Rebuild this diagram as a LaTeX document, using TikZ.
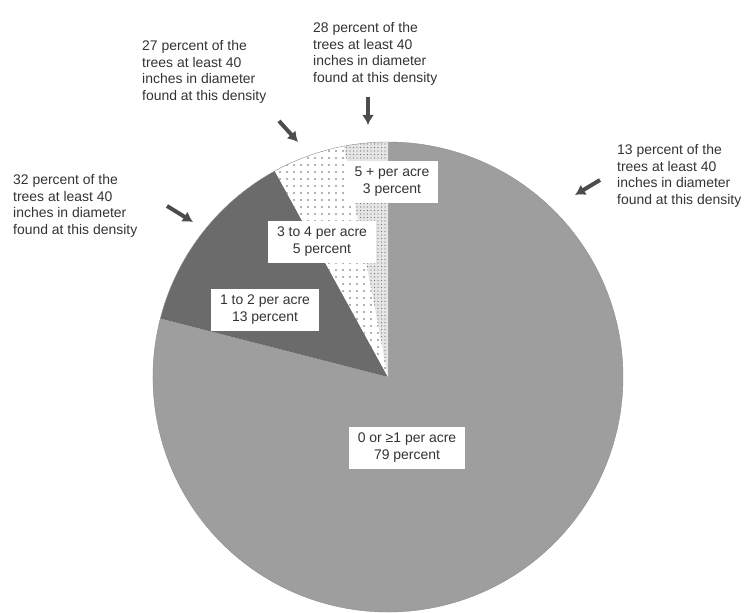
\documentclass[tikz,border=0pt]{standalone}
\usepackage{fontspec}
\setmainfont{Liberation Sans}
\usepackage{tikz}
\usetikzlibrary{arrows.meta,patterns.meta}

\tikzset{
  note/.style={align=left, font=\fontsize{14}{16.7}\selectfont, text=black!80, inner sep=0pt},
  tag/.style={fill=white, align=center, font=\fontsize{14}{17}\selectfont, text=black!80, inner xsep=9bp, inner ysep=6bp},
  pointer/.style={-{Latex[length=10bp,width=12bp]}, line width=4bp, draw=black!70},
}

\begin{document}
\begin{tikzpicture}[x=1bp, y=1bp]
	\useasboundingbox (0,0) rectangle (748,613);
	\coordinate (c) at (388,236);
	
	% slices, counter-clockwise from the top
	\fill[black!38] (c) -- ++(165.6:235bp) arc (165.6:450:235bp) -- cycle;
	\fill[black!58] (c) -- ++(118.8:235bp) arc (118.8:165.6:235bp) -- cycle;
	\fill[white] (c) -- ++(100.8:235bp) arc (100.8:118.8:235bp) -- cycle;
	\fill[pattern={Dots[distance=7bp,radius=0.9bp]}, pattern color=black!60]
		(c) -- ++(100.8:235bp) arc (100.8:118.8:235bp) -- cycle;
	\fill[black!10] (c) -- ++(90:235bp) arc (90:100.8:235bp) -- cycle;
	\fill[pattern={Dots[distance=3.5bp,radius=0.7bp]}, pattern color=black!55]
		(c) -- ++(90:235bp) arc (90:100.8:235bp) -- cycle;
	\draw[black!45, thin] (c) circle (235bp);
	
	\node[tag] (s79) at (407,165) {0 or ≥1 per acre\\79 percent};
	\node[tag] (s13) at (265,303) {1 to 2 per acre\\13 percent};
	\node[tag] (s5) at (322,371) {3 to 4 per acre\\5 percent};
	\node[tag] (s3) at (392,431) {5 + per acre\\3 percent};
	
	\node[note, anchor=west] (n32) at (13,407) {32 percent of the\\trees at least 40\\inches in diameter\\found at this density};
	\node[note, anchor=west] (n27) at (142,541) {27 percent of the\\trees at least 40\\inches in diameter\\found at this density};
	\node[note, anchor=west] (n28) at (313,559) {28 percent of the\\trees at least 40\\inches in diameter\\found at this density};
	\node[note, anchor=west] (n13) at (617,437) {13 percent of the\\trees at least 40\\inches in diameter\\found at this density};
	
	\coordinate (p32a) at (167,407); \coordinate (p32b) at (193,391);
	\coordinate (p27a) at (279,492); \coordinate (p27b) at (298,471);
	\coordinate (p28a) at (368,516); \coordinate (p28b) at (368,488);
	\coordinate (p13a) at (600,433); \coordinate (p13b) at (575,418);
	\draw[pointer] (p32a) -- (p32b); \draw[pointer] (p27a) -- (p27b);
	\draw[pointer] (p28a) -- (p28b); \draw[pointer] (p13a) -- (p13b);
\end{tikzpicture}
\end{document}
